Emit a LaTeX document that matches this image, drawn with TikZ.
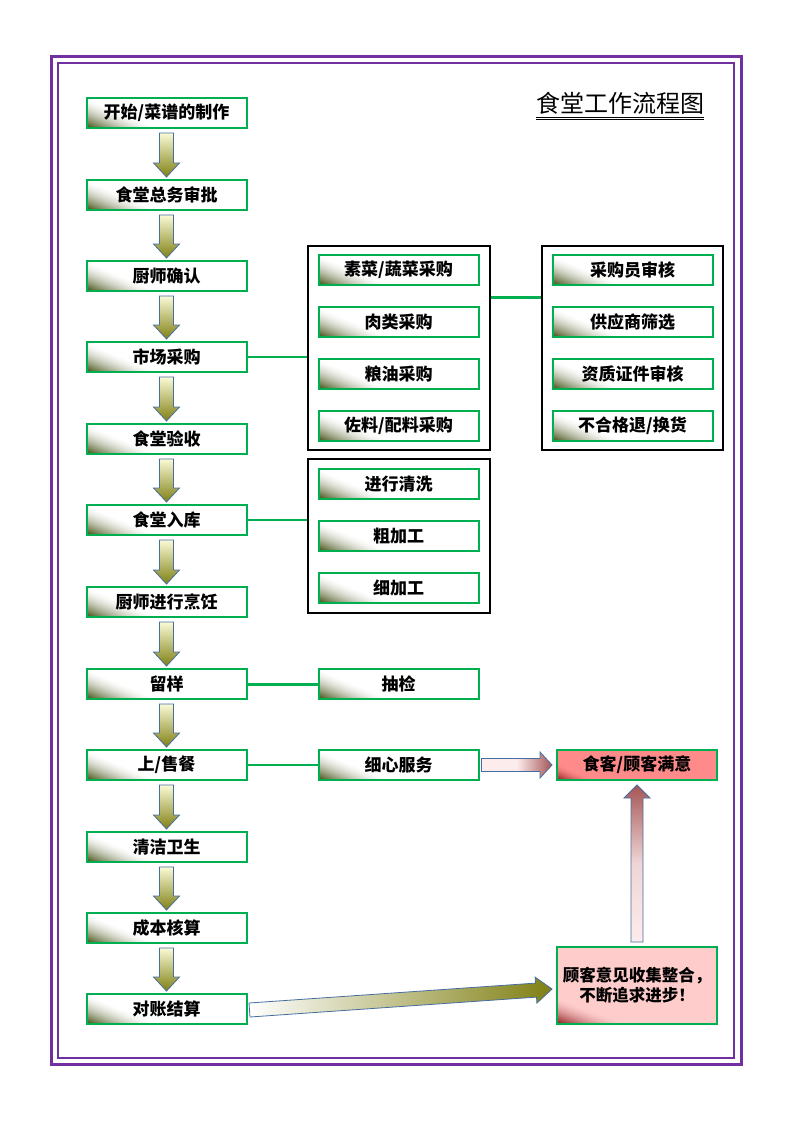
\documentclass[tikz,border=0pt]{standalone}
\usepackage{fontspec}
\setmainfont{Noto Sans CJK SC}
\usetikzlibrary{calc}
\definecolor{framec}{RGB}{112,48,160}
\definecolor{bgreen}{RGB}{0,176,80}
\definecolor{bdark}{RGB}{62,76,14}
\definecolor{abl}{RGB}{70,110,160}
\definecolor{atop}{RGB}{250,250,215}
\definecolor{abot}{RGB}{128,128,20}
\definecolor{salmonc}{RGB}{255,138,138}
\definecolor{lpink}{RGB}{255,204,204}
\definecolor{dred}{RGB}{135,25,25}
\definecolor{ptop}{RGB}{165,85,85}
\definecolor{plight}{RGB}{253,236,236}
% corner gradient: #1 dark colour, #2 base colour, #3 height at left edge, #4 length along bottom
\newcommand\cornershade[4]{\foreach \k in {24,23,...,1}{%
  \pgfmathsetmacro\pp{100*(1-(\k-0.5)/24)^1.6}%
  \fill[#1!\pp!#2] (path picture bounding box.south west) -- ++(0,{-#3*\k/24})
     -- ($(path picture bounding box.south west)+({#4*\k/24},0)$) -- cycle;}}
\tikzset{
  box/.style={draw=bgreen, line width=2pt, fill=white, minimum width=160pt, minimum height=30pt, inner sep=0pt,
    font=\bfseries\fontsize{17}{18}\selectfont,
    path picture={\cornershade{bdark}{white}{30}{72}}},
  pbox/.style={draw=bgreen, line width=2pt, fill=salmonc, minimum width=160pt, minimum height=30pt, inner sep=0pt,
    font=\bfseries\fontsize{17}{18}\selectfont,
    path picture={\cornershade{dred}{salmonc}{16}{38}}},
  fbbox/.style={draw=bgreen, line width=2pt, fill=lpink, minimum width=160pt, minimum height=77pt, inner sep=0pt, align=center,
    font=\bfseries\fontsize{16.5}{20}\selectfont,
    path picture={\cornershade{dred}{lpink}{26}{70}}},
  grp/.style={draw=black, line width=2.5pt, inner sep=0pt},
  conn/.style={draw=bgreen, line width=1.6pt},
  tconn/.style={draw=bgreen, line width=3pt},
  blockarr/.style={draw=abl, line width=0.8pt, top color=atop, bottom color=abot},
  pinkarr/.style={draw=abl, line width=0.8pt, left color=plight, right color=ptop, middle color=plight},
  uparr/.style={draw=abl, line width=0.8pt, top color=ptop, bottom color=plight, middle color=plight!85!ptop},
  bigarr/.style={draw=abl, line width=0.8pt, left color=white, right color=abot},
}
\newcommand\darr[2]{\path[blockarr] let \p1=(#1.south), \p2=(#2.north) in
  (\x1-7pt,\y1-4pt) -- (\x1+7pt,\y1-4pt) -- (\x1+7pt,\y2+16pt) -- (\x1+13pt,\y2+16pt) -- (\x1,\y2+2pt)
  -- (\x1-13pt,\y2+16pt) -- (\x1-7pt,\y2+16pt) -- cycle;}
\begin{document}
\begin{tikzpicture}[x=1pt,y=-1pt]
\useasboundingbox (0,0) rectangle (794,1123);
% page frame
\draw[framec, line width=3pt] (51,57) rectangle (741,1064);
\draw[framec, line width=2.2pt] (58,63) rectangle (734,1058);
% title
\node[font=\fontsize{24}{24}\selectfont, inner sep=0pt] (title) at (620,103) {食堂工作流程图};
\draw[line width=0.9pt] ($(title.west)+(0,14)$) -- ($(title.east)+(0,14)$);
\draw[line width=0.9pt] ($(title.west)+(0,16.5)$) -- ($(title.east)+(0,16.5)$);
% left column
\node[box] (n1) at (166.5,113) {开始/菜谱的制作};
\node[box] (n2) at (166.5,195) {食堂总务审批};
\node[box] (n3) at (166.5,276) {厨师确认};
\node[box] (n4) at (166.5,357) {市场采购};
\node[box] (n5) at (166.5,439) {食堂验收};
\node[box] (n6) at (166.5,520) {食堂入库};
\node[box] (n7) at (166.5,602) {厨师进行烹饪};
\node[box] (n8) at (166.5,684) {留样};
\node[box] (n9) at (166.5,765) {上/售餐};
\node[box] (n10) at (166.5,847) {清洁卫生};
\node[box] (n11) at (166.5,928) {成本核算};
\node[box] (n12) at (166.5,1009) {对账结算};
\darr{n1}{n2}\darr{n2}{n3}\darr{n3}{n4}\darr{n4}{n5}\darr{n5}{n6}\darr{n6}{n7}
\darr{n7}{n8}\darr{n8}{n9}\darr{n9}{n10}\darr{n10}{n11}\darr{n11}{n12}
% groups
\node[grp, minimum width=182pt, minimum height=204pt] (g1) at (399,348) {};
\node[grp, minimum width=182pt, minimum height=154pt] (g2) at (399,536) {};
\node[grp, minimum width=181pt, minimum height=204pt] (g3) at (632.5,348) {};
\node[box] (m1) at (398.5,270) {素菜/蔬菜采购};
\node[box] (m2) at (398.5,322) {肉类采购};
\node[box] (m3) at (398.5,374) {粮油采购};
\node[box] (m4) at (398.5,426) {佐料/配料采购};
\node[box] (r1) at (632.5,270) {采购员审核};
\node[box] (r2) at (632.5,322) {供应商筛选};
\node[box] (r3) at (632.5,374) {资质证件审核};
\node[box] (r4) at (632.5,426) {不合格退/换货};
\node[box] (p1) at (398.5,484) {进行清洗};
\node[box] (p2) at (398.5,536) {粗加工};
\node[box] (p3) at (398.5,588) {细加工};
\node[box] (cj) at (398.5,684) {抽检};
\node[box] (xf) at (398.5,765) {细心服务};
\node[pbox] (sk) at (637,765) {食客/顾客满意};
\node[fbbox] (fb) at (637,985.5) {顾客意见收集整合，\\不断追求进步！};
% connectors
\draw[conn] (n4.east) -- (g1.west |- n4.east);
\draw[conn] (n6.east) -- (g2.west |- n6.east);
\draw[tconn] ($(g1.east)+(0,-51)$) -- ($(g3.west)+(0,-51)$);
\draw[tconn] (n8.east) -- (cj.west);
\draw[conn] (n9.east) -- (xf.west);
% pink arrow right
\path[pinkarr] let \p1=(xf.east), \p2=(sk.west) in
  (\x1+2pt,\y1+6.5pt) -- (\x2-16pt,\y1+6.5pt) -- (\x2-16pt,\y1+13pt) -- (\x2-4pt,\y1)
  -- (\x2-16pt,\y1-13pt) -- (\x2-16pt,\y1-6.5pt) -- (\x1+2pt,\y1-6.5pt) -- cycle;
% up arrow
\path[uparr] let \p1=(fb.north), \p2=(sk.south) in
  (\x1-6pt,\y1+4pt) -- (\x1-6pt,\y2-17pt) -- (\x1-13pt,\y2-17pt) -- (\x1,\y2-4pt)
  -- (\x1+13pt,\y2-17pt) -- (\x1+6pt,\y2-17pt) -- (\x1+6pt,\y1+4pt) -- cycle;
% big diagonal arrow
\path[bigarr] ($(n12.east)+(1.5,-6)$) -- ($(fb.west)+(-20.5,-2.4)$) -- ($(fb.west)+(-20.9,-8.4)$)
  -- ($(fb.west)+(-4,3.5)$) -- ($(fb.west)+(-19.1,17.6)$) -- ($(fb.west)+(-19.5,11.6)$)
  -- ($(n12.east)+(2.5,8)$) -- cycle;
\end{tikzpicture}
\end{document}
